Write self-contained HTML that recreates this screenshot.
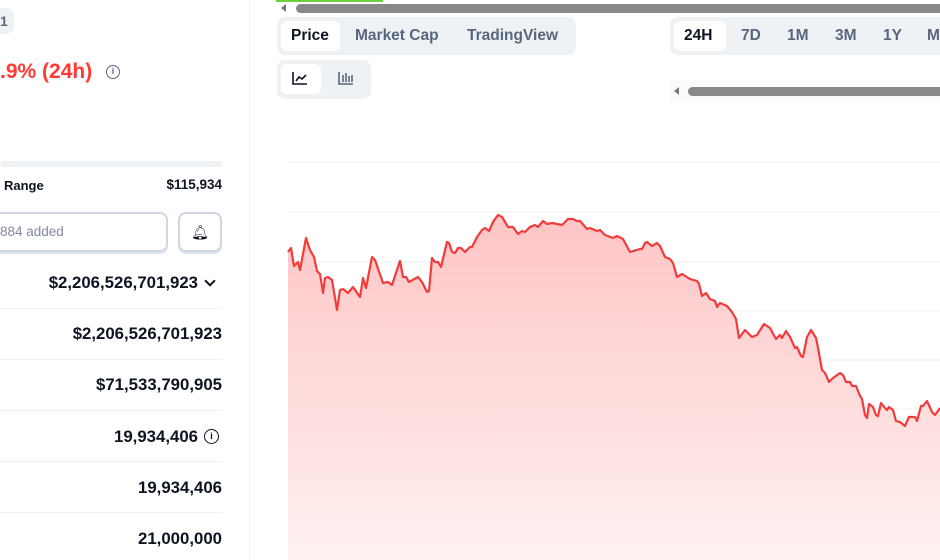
<!DOCTYPE html>
<html><head><meta charset="utf-8"><style>
*{margin:0;padding:0;box-sizing:border-box}
body{width:940px;height:560px;overflow:hidden;background:#fff;font-family:"Liberation Sans",sans-serif;color:#0d1421;position:relative}
.a{position:absolute}
.r{position:absolute;right:718px;font-size:16.8px;font-weight:bold;text-align:right;white-space:nowrap}
.sep{position:absolute;left:0;width:222px;height:1px;background:#eff2f5}
.tab{position:absolute;font-size:15.5px;font-weight:bold;color:#58667e}
</style></head><body>
<div class="a" style="left:0;top:8px;width:14px;height:26px;background:#eff2f5;border-radius:0 8px 8px 0"></div>
<div class="a" style="left:0;top:13px;font-size:14px;font-weight:bold;color:#58667e">1</div>
<div class="a" style="left:0;top:60px;font-size:21px;font-weight:bold;color:#ff3a33">.9% (24h)</div>
<div class="a" style="left:106px;top:65px;width:14px;height:14px;border:1.5px solid #58667e;border-radius:50%;font-size:9px;text-align:center;line-height:11px;color:#58667e;font-weight:bold">i</div>
<div class="a" style="left:0;top:161px;width:222px;height:6px;background:#eff2f5;border-radius:3px"></div>
<div class="a" style="left:4px;top:178px;font-size:13px;font-weight:bold">Range</div>
<div class="r" style="top:177px;font-size:13.5px">$115,934</div>
<div class="a" style="left:-10px;top:212px;width:178px;height:40px;border:2px solid #cfd6e4;border-radius:8px;box-shadow:0 2px 0 #dfe4ec"></div>
<div class="a" style="left:0;top:224px;font-size:13.5px;color:#808a9d">884 added</div>
<div class="a" style="left:178px;top:212px;width:44px;height:40px;border:2px solid #cfd6e4;border-radius:8px;box-shadow:0 2px 0 #dfe4ec;text-align:center;line-height:36px;font-size:14px">🔔︎</div>
<div class="r" style="top:273px;right:742px">$2,206,526,701,923</div>
<div class="a" style="left:206px;top:277px;width:8px;height:8px;border-right:2px solid #0d1421;border-bottom:2px solid #0d1421;transform:rotate(45deg)"></div>
<div class="sep" style="top:308px"></div>
<div class="r" style="top:324px">$2,206,526,701,923</div>
<div class="sep" style="top:359px"></div>
<div class="r" style="top:375px">$71,533,790,905</div>
<div class="sep" style="top:410px"></div>
<div class="r" style="top:427px;right:742px">19,934,406</div>
<div class="a" style="left:204px;top:429px;width:15px;height:15px;border:1.5px solid #0d1421;border-radius:50%;font-size:9px;text-align:center;line-height:12px;font-weight:bold">i</div>
<div class="sep" style="top:461px"></div>
<div class="r" style="top:478px">19,934,406</div>
<div class="sep" style="top:512px"></div>
<div class="r" style="top:529px">21,000,000</div>
<div class="a" style="left:249px;top:0;width:1px;height:560px;background:#eff2f5"></div>

<div class="a" style="left:276px;top:0;width:107px;height:2px;background:#6ccf3b"></div>
<div class="a" style="left:281px;top:4px;width:0;height:0;border-top:4px solid transparent;border-bottom:4px solid transparent;border-right:5px solid #777"></div>
<div class="a" style="left:296px;top:4px;width:650px;height:9px;background:#888;border-radius:5px"></div>
<div class="a" style="left:277px;top:17px;width:299px;height:38px;background:#eff2f5;border-radius:8px"></div>
<div class="a" style="left:281px;top:21px;width:59px;height:30px;background:#fff;border-radius:6px"></div>
<div class="tab" style="left:291px;top:27px;color:#0d1421">Price</div>
<div class="tab" style="left:355px;top:27px">Market Cap</div>
<div class="tab" style="left:467px;top:27px">TradingView</div>
<div class="a" style="left:670px;top:17px;width:280px;height:38px;background:#eff2f5;border-radius:8px"></div>
<div class="a" style="left:674px;top:21px;width:52px;height:30px;background:#fff;border-radius:6px"></div>
<div class="tab" style="left:684px;top:27px;color:#0d1421">24H</div>
<div class="tab" style="left:741px;top:27px">7D</div>
<div class="tab" style="left:787px;top:27px">1M</div>
<div class="tab" style="left:835px;top:27px">3M</div>
<div class="tab" style="left:883px;top:27px">1Y</div>
<div class="tab" style="left:927px;top:27px">M</div>
<div class="a" style="left:277px;top:60px;width:94px;height:39px;background:#eff2f5;border-radius:8px"></div>
<div class="a" style="left:281px;top:64px;width:40px;height:30px;background:#fff;border-radius:6px"></div>
<svg class="a" style="left:292px;top:71px" width="16" height="14"><path d="M1 1V13H15M4 10L7 6L10 8L14 4" fill="none" stroke="#0d1421" stroke-width="1.6"/></svg>
<svg class="a" style="left:338px;top:71px" width="16" height="14"><path d="M1 1V13H15M5 4V11M8 2V11M11 5V11M14 4V11" fill="none" stroke="#58667e" stroke-width="1.6"/></svg>
<div class="a" style="left:670px;top:80px;width:280px;height:22px;background:#fafbfc"></div>
<div class="a" style="left:674px;top:87px;width:0;height:0;border-top:4px solid transparent;border-bottom:4px solid transparent;border-right:5px solid #777"></div>
<div class="a" style="left:688px;top:87px;width:260px;height:9px;background:#888;border-radius:5px"></div>

<svg class="a" style="left:0;top:0" width="940" height="560">
<defs><linearGradient id="g2" x1="0" y1="210" x2="0" y2="560" gradientUnits="userSpaceOnUse"><stop offset="0" stop-color="#fec4c4"/><stop offset="1" stop-color="#fff1f1"/></linearGradient></defs>
<g stroke="#f0f0f0" stroke-width="1">
<line x1="288" y1="162" x2="940" y2="162"/><line x1="288" y1="212" x2="940" y2="212"/><line x1="288" y1="262" x2="940" y2="262"/><line x1="288" y1="311" x2="940" y2="311"/><line x1="288" y1="360" x2="940" y2="360"/><line x1="288" y1="409" x2="940" y2="409"/><line x1="288" y1="458" x2="940" y2="458"/><line x1="288" y1="508" x2="940" y2="508"/><line x1="288" y1="556" x2="940" y2="556"/>
</g>
<path fill="url(#g2)" d="M288,560 L288,252 291,248 294,266 298,262 300,270 306,238 310,250 314,257 317,271 320,274 323,293 325,278 328,277 332,280 337,310 340,290 343,289 348,293 353,287 360,297 363,278 366,288 372,257 375,260 383,283 388,282 392,285 400,261 403,277 406,277 409,282 418,277 422,282 427,292 429,291 432,258 435,262 438,262 441,267 447,242 449,243 452,252 455,253 458,248 461,248 465,252 470,247 472,247 477,237 482,230 485,228 489,231 493,222 498,215 502,217 508,227 513,227 518,234 522,231 525,232 530,227 535,225 538,227 543,221 547,224 552,223 562,225 568,219 573,219 577,221 580,221 587,229 590,228 597,231 600,230 605,235 613,238 617,236 623,239 630,252 640,249 642,249 645,243 647,242 652,246 657,243 660,246 665,257 670,259 673,263 677,277 682,274 690,279 697,281 699,284 702,296 706,293 710,299 715,301 717,307 720,303 727,306 732,312 736,319 739,338 745,330 752,337 757,335 764,324 770,328 776,339 780,335 782,338 786,331 790,337 795,348 797,347 801,356 803,357 807,337 811,330 816,338 818,348 822,370 825,373 829,382 833,378 840,373 843,375 846,382 850,382 852,386 856,386 860,396 862,399 865,415 867,418 869,404 873,407 876,415 878,416 881,403 885,408 887,410 889,407 893,410 896,421 900,422 905,426 909,417 915,417 917,421 921,406 923,406 927,401 932,412 935,415 940,408 L940,560 Z"/>
<polyline fill="none" stroke="#f23b3b" stroke-width="2.2" stroke-linejoin="round" points="288,252 291,248 294,266 298,262 300,270 306,238 310,250 314,257 317,271 320,274 323,293 325,278 328,277 332,280 337,310 340,290 343,289 348,293 353,287 360,297 363,278 366,288 372,257 375,260 383,283 388,282 392,285 400,261 403,277 406,277 409,282 418,277 422,282 427,292 429,291 432,258 435,262 438,262 441,267 447,242 449,243 452,252 455,253 458,248 461,248 465,252 470,247 472,247 477,237 482,230 485,228 489,231 493,222 498,215 502,217 508,227 513,227 518,234 522,231 525,232 530,227 535,225 538,227 543,221 547,224 552,223 562,225 568,219 573,219 577,221 580,221 587,229 590,228 597,231 600,230 605,235 613,238 617,236 623,239 630,252 640,249 642,249 645,243 647,242 652,246 657,243 660,246 665,257 670,259 673,263 677,277 682,274 690,279 697,281 699,284 702,296 706,293 710,299 715,301 717,307 720,303 727,306 732,312 736,319 739,338 745,330 752,337 757,335 764,324 770,328 776,339 780,335 782,338 786,331 790,337 795,348 797,347 801,356 803,357 807,337 811,330 816,338 818,348 822,370 825,373 829,382 833,378 840,373 843,375 846,382 850,382 852,386 856,386 860,396 862,399 865,415 867,418 869,404 873,407 876,415 878,416 881,403 885,408 887,410 889,407 893,410 896,421 900,422 905,426 909,417 915,417 917,421 921,406 923,406 927,401 932,412 935,415 940,408"/>
</svg>
</body></html>
